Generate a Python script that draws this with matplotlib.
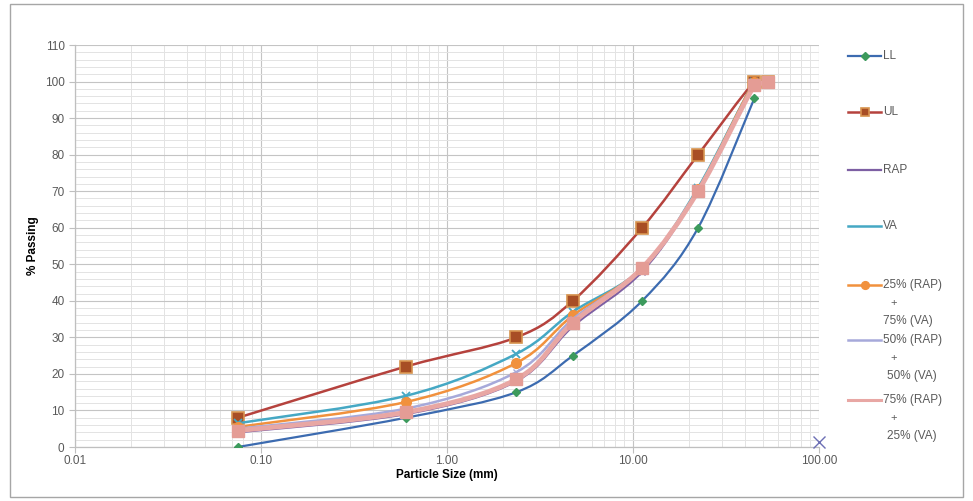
import numpy as np
import matplotlib
matplotlib.use("Agg")
import matplotlib.pyplot as plt
from matplotlib.path import Path
from matplotlib.patches import PathPatch, Rectangle
from matplotlib.lines import Line2D

plt.rcParams['font.family'] = ['Liberation Sans', 'DejaVu Sans']

# ---------------- data ----------------
sieve = [0.075, 0.6, 2.36, 4.75, 11.2, 22.4, 45, 53]
ll_sieve = [0.075, 0.6, 2.36, 4.75, 11.2, 22.4, 45]
LL = [0, 8, 15, 25, 40, 60, 95.5]
UL = [8, 22, 30, 40, 60, 80, 100, 100]
RAP = [4, 9, 18, 33, 48, 70, 99, 100]
VA = [6.5, 14, 25.5, 37, 49, 71, 100, 100]
MIX25 = [5.5, 12.3, 23, 36, 49, 70.5, 100, 100]
MIX50 = [5, 10.5, 20.5, 35, 49, 70, 99, 100]
MIX75 = [4.5, 9.5, 18.5, 34, 49, 70, 99, 100]
stray_x = [100]
stray_y = [1.5]

labels = ["LL", "UL", "RAP", "VA",
          "25% (RAP)\n+\n75% (VA)", "50% (RAP)\n+\n50% (VA)", "75% (RAP)\n+\n25% (VA)"]
xticks = [0.01, 0.1, 1, 10, 100]
xticklabels = ["0.01", "0.10", "1.00", "10.00", "100.00"]
yticks = list(range(0, 111, 10))

# ---------------- figure ----------------
fig = plt.figure(figsize=(9.73, 5.01), dpi=100)
W, H = 973, 501
ax = fig.add_axes([75 / W, 1 - 447 / H, (819 - 75) / W, (447 - 45) / H])
ax.set_xscale('log')
ax.set_xlim(0.01, 100)
ax.set_ylim(0, 110)

# grid
ax.set_yticks(yticks)
ax.set_yticks(np.arange(0, 111, 2), minor=True)
ax.grid(which='major', axis='both', color='#C4C4C4', lw=0.8, zorder=0)
ax.grid(which='minor', axis='both', color='#E3E3E3', lw=0.7, zorder=0)
ax.set_axisbelow(True)

for s in ['top', 'right']:
    ax.spines[s].set_visible(False)
for s in ['left', 'bottom']:
    ax.spines[s].set_color('#BFBFBF')
    ax.spines[s].set_linewidth(0.9)

ax.set_xticks(xticks)
ax.set_xticklabels(xticklabels)
ax.tick_params(axis='both', which='major', labelsize=8.5, labelcolor='#595959',
               color='#BFBFBF', length=4, width=0.8)
ax.tick_params(axis='both', which='minor', length=0)
ax.tick_params(axis='x', pad=2)
ax.set_xlabel("Particle Size (mm)", fontsize=8.5, fontweight='bold', labelpad=1)
ax.set_ylabel("% Passing", fontsize=8.5, fontweight='bold', labelpad=4)


def smooth_path(xs, ys):
    u = np.log10(np.asarray(xs, float))
    y = np.asarray(ys, float)
    n = len(u)
    verts = [(xs[0], y[0])]
    codes = [Path.MOVETO]
    for i in range(n - 1):
        i0 = max(i - 1, 0)
        i3 = min(i + 2, n - 1)
        lo, hi = min(y[i], y[i + 1]), max(y[i], y[i + 1])
        c1u = u[i] + (u[i + 1] - u[i0]) / 6.0
        c1y = np.clip(y[i] + (y[i + 1] - y[i0]) / 6.0, lo, hi)
        c2u = u[i + 1] - (u[i3] - u[i]) / 6.0
        c2y = np.clip(y[i + 1] - (y[i3] - y[i]) / 6.0, lo, hi)
        verts += [(10 ** c1u, c1y), (10 ** c2u, c2y), (10 ** u[i + 1], y[i + 1])]
        codes += [Path.CURVE4] * 3
    return Path(verts, codes)


series = [
    (ll_sieve, LL, '#3C6BB0', 1.6, dict(marker='D', ms=4.5, mfc='#3C9A5C', mec='#3C9A5C')),
    (sieve, UL, '#B5423D', 1.8, dict(marker='s', ms=8, mfc='#A84E25', mec='#D7934E', mew=1.2)),
    (sieve, RAP, '#7D5FA3', 1.6, dict(marker='x', ms=5, mfc='#7D5FA3', mec='#7D5FA3')),
    (sieve, VA, '#45A8C4', 1.8, dict(marker='x', ms=6, mfc='#45A8C4', mec='#45A8C4', mew=1.3)),
    (sieve, MIX25, '#F1913D', 1.8, dict(marker='o', ms=7, mfc='#F1913D', mec='#F1913D')),
    (sieve, MIX50, '#A6A9DA', 1.8, dict(marker='x', ms=5, mfc='#A6A9DA', mec='#A6A9DA')),
    (sieve, MIX75, '#E8A7A4', 3.5, dict(marker='s', ms=9, mfc='#E49C95', mec='#E49C95')),
]

for k, (xs, ys, col, lw, mk) in enumerate(series):
    patch = PathPatch(smooth_path(xs, ys), fill=False, edgecolor=col, lw=lw,
                      transform=ax.transData, zorder=3 + k, capstyle='round', joinstyle='round')
    ax.add_patch(patch)
    ax.plot(xs, ys, linestyle='none', zorder=3.5 + k, **mk)

ax.plot(stray_x, stray_y, linestyle='none', marker='x', ms=8, mec='#6C6FB5', mew=1.0,
        zorder=12, clip_on=False)

# ---------------- legend (manual, figure pixels) ----------------
leg_y = [56, 112, 170, 226, 285, 340, 400]
for k, ((xs, ys, col, lw, mk), lab, yy) in enumerate(zip(series, labels, leg_y)):
    fy = 1 - yy / H
    fig.add_artist(Line2D([848 / W, 881 / W], [fy, fy], color=col, lw=min(lw, 2.2),
                          transform=fig.transFigure))
    if k in (0, 1, 4):
        m = dict(mk)
        m['ms'] = m['ms'] * 0.8
        fig.add_artist(Line2D([864.5 / W], [fy], linestyle='none', transform=fig.transFigure, **m))
    lines = lab.split("\n")
    if len(lines) == 1:
        fig.text(883 / W, fy, lines[0], fontsize=8.5, color='#595959', va='center', ha='left')
    else:
        fig.text(883 / W, fy, lines[0], fontsize=8.5, color='#595959', va='center', ha='left')
        fig.text(890 / W, 1 - (yy + 18) / H, lines[1], fontsize=8, color='#595959', va='center', ha='left')
        off = 883 if k == 4 else 887
        fig.text(off / W, 1 - (yy + 36) / H, lines[2], fontsize=8.5, color='#595959', va='center', ha='left')

# outer border
fig.add_artist(Rectangle((10 / W, 4 / H), (963 - 10) / W, (497 - 4) / H, fill=False,
                         edgecolor='#A6A6A6', lw=1.0, transform=fig.transFigure))

fig.savefig("out.png", dpi=100)
